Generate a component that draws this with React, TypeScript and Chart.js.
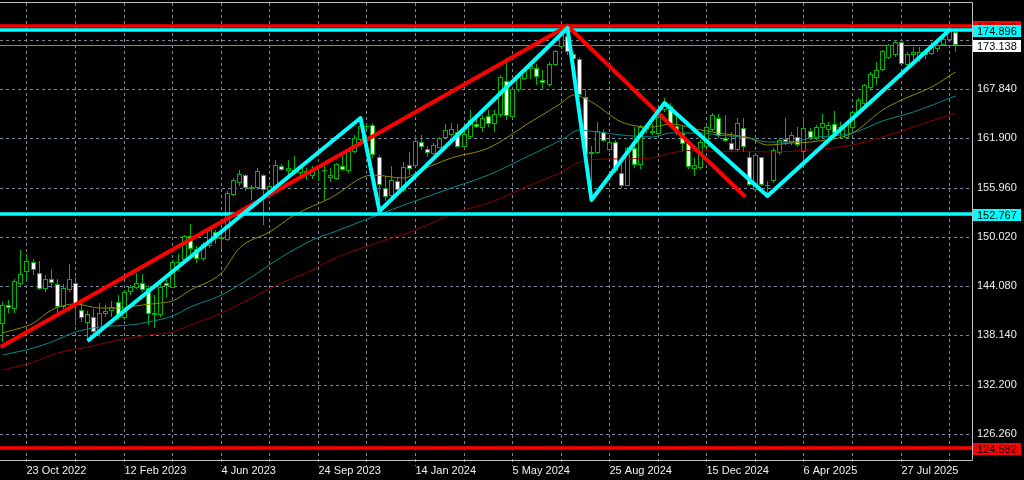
import React, { useEffect, useRef } from "react";
import { Chart, registerables } from "chart.js";

Chart.register(...registerables);

// Weekly EUR/JPY candles, week starting 25 Sep 2022 (index 0) to 28 Sep 2025 (index 157)
const opens = [
  139.5, 141.8, 141.3, 144.3, 145.8, 147.0, 145.7, 143.7, 144.9, 144.3,
  141.6, 143.6, 144.5, 141.2, 139.6, 140.4, 138.5, 140.7, 141.1, 142.2,
  140.2, 143.4, 143.9, 144.5, 143.8, 140.9, 140.6, 144.5, 143.9, 147.0,
  147.2, 150.1, 148.6, 147.4, 148.9, 150.6, 149.8, 149.7, 155.1, 156.5,
  157.5, 155.75, 155.9, 157.5, 155.5, 155.9, 158.6, 157.9, 158.1, 157.7,
  157.5, 157.3, 157.9, 157.9, 157.1, 157.0, 158.6, 157.9, 160.3, 161.7,
  163.4, 163.5, 159.6, 155.95, 154.9, 156.7, 155.5, 158.7, 158.6, 161.5,
  160.6, 160.0, 160.7, 161.9, 162.3, 162.7, 160.9, 162.1, 163.6, 163.1,
  164.6, 163.6, 164.7, 168.8, 164.5, 167.7, 169.0, 170.25, 170.4, 168.9,
  168.3, 170.7, 172.9, 174.2, 172.1, 171.5, 166.9, 160.3, 160.1, 162.7,
  160.5, 161.4, 157.7, 156.2, 160.7, 158.7, 162.9, 162.8, 162.4, 165.3,
  165.8, 163.4, 162.5, 161.6, 158.2, 158.3, 160.8, 162.9, 164.4, 161.9,
  161.3, 160.5, 163.1, 159.7, 155.7, 159.6, 156.3, 156.7, 160.1, 161.8,
  161.5, 162.1, 160.2, 162.8, 161.8, 163.1, 162.9, 163.6, 163.1, 161.9,
  163.1, 164.9, 166.0, 168.0, 169.2, 170.1, 171.6, 171.9, 173.5, 170.7,
  171.9, 171.7, 172.3, 172.0, 172.7, 173.1, 173.7, 174.75,
];
const highs = [
  142.2, 142.4, 145.0, 148.4, 147.9, 147.4, 147.1, 145.4, 146.1, 145.0,
  144.3, 146.8, 145.2, 142.0, 141.1, 141.3, 142.0, 141.8, 142.3, 143.0,
  143.6, 144.2, 145.7, 145.5, 144.2, 143.0, 144.4, 144.8, 147.2, 147.9,
  150.2, 151.6, 148.9, 149.4, 151.0, 150.8, 150.4, 155.5, 157.1, 158.1,
  157.6, 156.3, 158.3, 157.6, 156.6, 159.3, 158.8, 159.3, 159.8, 158.7,
  158.3, 158.6, 158.6, 158.5, 158.3, 158.9, 159.9, 160.7, 162.3, 164.3,
  163.6, 163.7, 159.9, 157.3, 158.5, 157.1, 159.1, 160.3, 162.3, 162.3,
  161.0, 161.3, 162.1, 163.6, 163.8, 163.6, 162.7, 165.3, 164.8, 164.7,
  165.3, 165.3, 169.5, 171.6, 167.9, 169.5, 170.5, 171.1, 170.9, 170.1,
  171.1, 172.5, 174.55, 175.43, 172.3, 171.7, 167.9, 161.0, 163.9, 163.0,
  162.1, 161.7, 159.1, 160.8, 163.3, 163.5, 163.5, 163.6, 164.7, 166.8,
  166.1, 164.7, 163.5, 161.7, 159.5, 161.7, 163.5, 164.9, 164.8, 164.7,
  162.7, 164.3, 164.3, 160.3, 160.0, 159.7, 156.7, 160.7, 161.9, 164.3,
  162.7, 163.3, 164.3, 163.1, 163.5, 164.8, 163.9, 165.2, 163.9, 163.7,
  165.2, 166.7, 168.5, 169.9, 171.1, 172.5, 173.3, 173.8, 173.7, 172.3,
  172.9, 172.9, 172.7, 173.5, 173.6, 174.2, 175.07, 174.95,
];
const lows = [
  137.4, 140.8, 140.9, 144.1, 144.9, 145.4, 143.6, 143.4, 143.8, 140.8,
  141.3, 143.4, 139.4, 139.8, 137.5, 138.0, 138.0, 140.3, 140.4, 140.0,
  140.0, 143.0, 143.7, 143.4, 139.4, 139.0, 140.3, 142.6, 143.8, 145.9,
  146.9, 147.7, 146.9, 147.1, 148.7, 149.2, 148.6, 149.5, 155.0, 156.1,
  155.5, 154.5, 155.7, 151.4, 154.9, 155.9, 157.9, 157.5, 157.5, 157.3,
  156.9, 157.0, 156.8, 154.5, 156.6, 156.9, 157.9, 157.7, 160.1, 161.6,
  162.9, 159.5, 153.2, 154.3, 154.7, 155.5, 155.4, 157.5, 158.5, 160.5,
  159.7, 159.9, 160.7, 161.8, 162.1, 160.7, 160.7, 161.9, 163.1, 162.7,
  163.3, 162.7, 164.5, 164.1, 164.3, 167.5, 168.9, 169.1, 168.3, 167.7,
  168.1, 170.6, 172.7, 171.9, 171.3, 166.9, 159.9, 154.45, 160.0, 161.4,
  160.3, 157.7, 155.9, 156.1, 158.3, 158.2, 162.5, 162.3, 162.2, 165.1,
  163.3, 162.3, 160.3, 158.2, 157.3, 158.1, 160.5, 162.8, 161.9, 161.4,
  160.3, 160.3, 160.3, 156.2, 155.6, 156.1, 154.9, 156.5, 159.9, 161.1,
  161.1, 160.9, 158.5, 161.7, 161.7, 161.9, 161.8, 161.7, 161.9, 161.8,
  162.9, 164.7, 165.9, 167.8, 168.3, 170.0, 171.5, 171.7, 170.8, 170.1,
  171.3, 171.1, 171.5, 171.9, 172.3, 173.0, 173.6, 172.26,
];
const closes = [
  141.8, 141.5, 144.7, 145.6, 147.1, 146.0, 143.7, 144.9, 144.5, 141.6,
  143.8, 144.9, 141.8, 140.2, 140.7, 138.5, 140.8, 141.1, 141.6, 140.3,
  143.4, 144.0, 144.5, 143.6, 140.7, 140.6, 144.0, 144.1, 147.0, 146.9,
  150.1, 148.6, 147.3, 149.2, 150.8, 149.8, 150.0, 155.3, 156.9, 157.6,
  155.9, 156.0, 157.9, 155.7, 156.1, 158.7, 158.1, 158.3, 157.8, 158.3,
  157.9, 157.9, 158.0, 158.1, 157.5, 158.76, 158.1, 160.4, 161.98, 163.4,
  163.2, 159.9, 156.3, 154.86, 156.87, 155.7, 158.4, 158.2, 161.6, 160.8,
  160.1, 161.1, 161.9, 162.9, 163.0, 160.9, 162.4, 164.1, 163.3, 164.4,
  163.6, 164.8, 169.3, 164.6, 167.8, 169.3, 170.3, 170.65, 169.3, 168.6,
  170.9, 172.4, 174.3, 172.3, 171.5, 167.1, 160.0, 160.0, 162.8, 161.6,
  161.5, 157.9, 156.2, 160.7, 158.7, 163.2, 163.3, 162.5, 164.5, 165.8,
  163.6, 162.7, 161.2, 158.4, 158.7, 161.4, 163.2, 164.7, 162.2, 161.6,
  160.5, 163.7, 160.8, 156.3, 159.9, 156.3, 156.1, 160.5, 161.7, 161.5,
  162.3, 161.1, 163.1, 161.9, 163.3, 163.7, 163.5, 162.5, 163.3, 163.6,
  165.1, 166.5, 168.3, 169.6, 170.1, 172.4, 173.1, 173.5, 170.9, 172.0,
  172.3, 172.3, 171.9, 172.9, 173.2, 173.9, 174.95, 173.138,
];

// Moving averages (at selected weeks)
const maFastIdx = [0, 5, 8, 12, 16, 19, 23, 26, 28, 31, 36, 39, 44, 48, 54, 61, 66, 69, 74, 80, 87, 92, 94, 97, 102, 107, 110, 115, 118, 123, 126, 130, 133, 140, 145, 148, 153, 157];
const maFastVal = [138.4, 139.6, 141.2, 141.9, 141.45, 141.45, 141.8, 142.05, 142.3, 143.6, 145.7, 148.7, 150.6, 152.65, 154.7, 157.5, 157.1, 158.1, 159.5, 160.7, 163.9, 166.15, 167.1, 166.3, 163.9, 163.3, 163.6, 162.9, 162.5, 161.9, 161.1, 161.3, 161.45, 162.5, 165.3, 166.5, 168.1, 169.9];
const maMidIdx = [0, 5, 8, 12, 16, 21, 24, 28, 31, 36, 41, 46, 51, 55, 61, 67, 74, 80, 87, 92, 95, 98, 102, 107, 110, 115, 118, 123, 126, 130, 133, 140, 145, 150, 157];
const maMidVal = [135.8, 136.6, 137.35, 138.55, 139.2, 139.4, 139.8, 140.5, 141.6, 143.0, 145.2, 147.6, 149.6, 150.7, 152.4, 154.1, 155.9, 157.5, 159.9, 161.7, 162.9, 162.7, 162.3, 162.1, 162.5, 162.5, 162.3, 161.9, 161.45, 161.45, 161.9, 162.5, 164.0, 165.1, 167.0];
const maSlowIdx = [0, 5, 9, 14, 19, 24, 28, 31, 36, 41, 46, 51, 54, 62, 68, 75, 80, 87, 92, 95, 100, 107, 110, 115, 118, 122, 126, 133, 140, 145, 151, 157];
const maSlowVal = [134.0, 134.9, 136.0, 136.75, 137.6, 138.2, 138.55, 139.4, 140.8, 142.65, 144.5, 146.0, 147.2, 149.4, 150.85, 153.0, 154.1, 156.3, 157.8, 159.0, 159.4, 159.5, 160.1, 160.5, 160.25, 160.4, 160.25, 160.5, 161.1, 162.1, 163.5, 164.95];

// Drawn objects
const zigIdx = [14, 59, 62, 93, 97, 109, 126, 156];
const zigVal = [137.5, 164.3, 153.1, 175.2, 154.45, 166.2, 154.9, 174.9];
const trendIdx = [-0.44, 93, 122.3];
const trendVal = [136.75, 175.45, 154.8];
const levelVal = [175.43, 174.896, 152.767, 124.582];
const levelColor = ["#ff0000", "#00ffff", "#00ffff", "#ff0000"];
const bidPrice = 173.138;

// Axes
const yTickVals = [126.26, 132.2, 138.14, 144.08, 150.02, 155.96, 161.9, 167.84, 173.78];
const xGridIdx = [4, 12, 20, 28, 36, 44, 52, 60, 68, 76, 84, 92, 100, 108, 116, 124, 132, 140, 148, 156];
const xLabelIdx = [4, 20, 36, 52, 68, 84, 100, 116, 132, 148];
const xLabelText = ["23 Oct 2022", "12 Feb 2023", "4 Jun 2023", "24 Sep 2023", "14 Jan 2024", "5 May 2024", "25 Aug 2024", "15 Dec 2024", "6 Apr 2025", "27 Jul 2025"];

const X_MIN = -0.445;
const X_MAX = 159.68;
const Y_MIN = 123.125;
const Y_MAX = 178.205;

const GREEN = "#00b400";
const GRID = "#778899";
const FRAME = "#c0c0c0";
const FONT = "'Liberation Sans', Arial, sans-serif";

// snap scale pixels so 1px wicks and 5px bodies land on whole device pixels
function snapX(s: any) {
  if (s.__snapped) return;
  const orig = s.getPixelForValue.bind(s);
  s.getPixelForValue = (v: any, i?: any) => Math.floor(orig(v, i)) + 0.5;
  s.__snapped = true;
}
function snapY(s: any) {
  if (s.__snapped) return;
  const orig = s.getPixelForValue.bind(s);
  s.getPixelForValue = (v: any, i?: any) => Math.round(orig(v, i));
  s.__snapped = true;
}

const decor = {
  id: "decor",
  beforeDatasetsDraw(chart: any) {
    const { ctx, chartArea: a, scales } = chart;
    const xs = scales.x;
    const ys = scales.y;
    ctx.save();
    ctx.lineWidth = 1;
    ctx.strokeStyle = GRID;
    ctx.setLineDash([3, 3]);
    ctx.beginPath();
    for (const v of yTickVals) {
      const p = Math.round(ys.getPixelForValue(v)) + 0.5;
      ctx.moveTo(a.left, p);
      ctx.lineTo(a.right, p);
    }
    for (const v of xGridIdx) {
      const p = Math.floor(xs.getPixelForValue(v)) + 0.5;
      ctx.moveTo(p, a.top);
      ctx.lineTo(p, a.bottom + 6);
    }
    ctx.stroke();
    ctx.setLineDash([]);
    const pb = Math.round(ys.getPixelForValue(bidPrice)) + 0.5;
    ctx.strokeStyle = GRID;
    ctx.beginPath();
    ctx.moveTo(a.left, pb);
    ctx.lineTo(a.right, pb);
    ctx.stroke();
    ctx.restore();
  },
  afterDraw(chart: any) {
    const { ctx, chartArea: a, scales } = chart;
    const ys = scales.y;
    ctx.save();
    ctx.strokeStyle = FRAME;
    ctx.lineWidth = 1;
    ctx.beginPath();
    ctx.moveTo(a.left, a.top - 0.5);
    ctx.lineTo(a.right + 0.5, a.top - 0.5);
    ctx.lineTo(a.right + 0.5, a.bottom + 0.5);
    ctx.lineTo(a.left, a.bottom + 0.5);
    ctx.stroke();
    const boxes: [number, string][] = [
      [levelVal[0], levelColor[0]],
      [levelVal[1], levelColor[1]],
      [bidPrice, "#ffffff"],
      [levelVal[2], levelColor[2]],
      [levelVal[3], levelColor[3]],
    ];
    ctx.font = `11px ${FONT}`;
    ctx.textBaseline = "middle";
    ctx.textAlign = "left";
    for (const [v, bg] of boxes) {
      const py = Math.round(ys.getPixelForValue(v)) + 1;
      ctx.fillStyle = bg;
      ctx.fillRect(a.right + 1, py - 6, 48, 12);
      ctx.fillStyle = "#000000";
      ctx.fillText(v.toFixed(3), a.right + 5, py + 0.5);
    }
    ctx.restore();
  },
};

export default function App() {
  const ref = useRef<HTMLCanvasElement>(null);
  useEffect(() => {
    document.body.style.margin = "0";
    document.body.style.background = "#000000";
    const canvas = ref.current;
    if (!canvas) return;
    const idx = opens.map((_, i) => i);
    const lineBase = { pointRadius: 0, fill: false, clip: 0, borderJoinStyle: "round" as const };
    const datasets: any[] = [
      {
        type: "bar",
        label: "wick",
        data: idx.map((i) => ({ x: i, y: [lows[i], highs[i]] })),
        backgroundColor: GREEN,
        barThickness: 1,
        inflateAmount: 0,
        grouped: false,
        order: 10,
      },
      {
        type: "bar",
        label: "body",
        data: idx.map((i) => ({ x: i, y: [opens[i], closes[i]] })),
        backgroundColor: idx.map((i) => (closes[i] >= opens[i] ? "#000000" : "#ffffff")),
        borderColor: GREEN,
        borderWidth: 1,
        borderSkipped: false,
        barThickness: 5,
        inflateAmount: 0,
        grouped: false,
        order: 9,
      },
      {
        type: "line",
        label: "MA fast",
        data: maFastIdx.map((x, k) => ({ x, y: maFastVal[k] })),
        borderColor: "#8c8c00",
        borderWidth: 1,
        cubicInterpolationMode: "monotone",
        ...lineBase,
        order: 6,
      },
      {
        type: "line",
        label: "MA mid",
        data: maMidIdx.map((x, k) => ({ x, y: maMidVal[k] })),
        borderColor: "#008c8c",
        borderWidth: 1,
        cubicInterpolationMode: "monotone",
        ...lineBase,
        order: 6,
      },
      {
        type: "line",
        label: "MA slow",
        data: maSlowIdx.map((x, k) => ({ x, y: maSlowVal[k] })),
        borderColor: "#8c0000",
        borderWidth: 1,
        cubicInterpolationMode: "monotone",
        ...lineBase,
        order: 6,
      },
      ...levelVal.map((v, k) => ({
        type: "line",
        label: "level " + v,
        data: [
          { x: X_MIN - 1, y: v },
          { x: X_MAX + 1, y: v },
        ],
        borderColor: levelColor[k],
        borderWidth: 3.5,
        ...lineBase,
        order: 3,
      })),
      {
        type: "line",
        label: "trend red",
        data: trendIdx.map((x, k) => ({ x, y: trendVal[k] })),
        borderColor: "#ff0000",
        borderWidth: 4,
        ...lineBase,
        order: 2,
      },
      {
        type: "line",
        label: "zigzag",
        data: zigIdx.map((x, k) => ({ x, y: zigVal[k] })),
        borderColor: "#00ffff",
        borderWidth: 4,
        ...lineBase,
        order: 1,
      },
    ];
    const chart = new Chart(canvas, {
      type: "bar",
      data: { datasets },
      plugins: [decor],
      options: {
        responsive: false,
        devicePixelRatio: 1,
        animation: false,
        events: [],
        layout: { padding: { top: 3, left: 0, right: 0, bottom: 0 } },
        plugins: { legend: { display: false }, tooltip: { enabled: false } },
        scales: {
          x: {
            type: "linear",
            position: "bottom",
            min: X_MIN,
            max: X_MAX,
            offset: false,
            grid: { display: false, drawTicks: false },
            border: { display: false },
            afterBuildTicks: (s: any) => {
              s.ticks = xGridIdx.map((v) => ({ value: v }));
            },
            afterFit: (s: any) => {
              s.height = 20;
              s.paddingLeft = 0;
              s.paddingRight = 0;
            },
            afterUpdate: snapX,
            ticks: {
              autoSkip: false,
              maxRotation: 0,
              align: "start",
              padding: 4,
              color: "#f0f0f0",
              font: { family: FONT, size: 11 },
              callback: (v: any) => {
                const k = xLabelIdx.indexOf(Number(v));
                return k >= 0 ? xLabelText[k] : "";
              },
            },
          },
          y: {
            type: "linear",
            position: "right",
            min: Y_MIN,
            max: Y_MAX,
            beginAtZero: false,
            grid: { display: false, drawTicks: false },
            border: { display: false },
            afterBuildTicks: (s: any) => {
              s.ticks = yTickVals.map((v) => ({ value: v }));
            },
            afterFit: (s: any) => {
              s.width = 52;
              s.paddingTop = 0;
              s.paddingBottom = 0;
            },
            afterUpdate: snapY,
            ticks: {
              autoSkip: false,
              padding: 5,
              color: "#f0f0f0",
              font: { family: FONT, size: 11 },
              callback: (v: any) => (Math.abs(Number(v) - 173.78) < 1e-6 ? "" : Number(v).toFixed(3)),
            },
          },
        },
      } as any,
    });
    return () => chart.destroy();
  }, []);
  return (
    <div style={{ position: "absolute", left: 0, top: 0, width: 1024, height: 480, background: "#000000" }}>
      <canvas ref={ref} width={1024} height={480} style={{ display: "block", width: 1024, height: 480 }} />
    </div>
  );
}
